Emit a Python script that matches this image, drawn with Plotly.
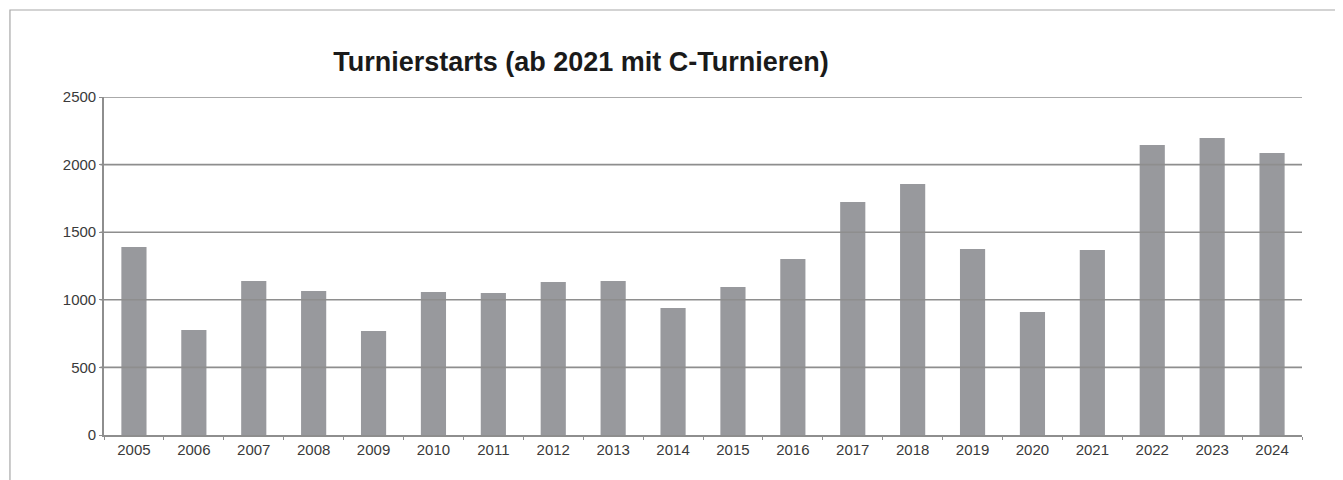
import plotly.graph_objects as go

years = ["2005", "2006", "2007", "2008", "2009", "2010", "2011", "2012", "2013", "2014",
         "2015", "2016", "2017", "2018", "2019", "2020", "2021", "2022", "2023", "2024"]
starts = [1390, 777, 1139, 1065, 769, 1058, 1050, 1132, 1139, 939,
          1095, 1302, 1723, 1857, 1376, 910, 1368, 2145, 2197, 2086]
y_ticks = [0, 500, 1000, 1500, 2000, 2500]
title_text = "Turnierstarts (ab 2021 mit C-Turnieren)"

FONT = "Liberation Sans, Arial, Helvetica, sans-serif"
GRID = "#8e8e8e"
OFF = 8  # page body margin

fig = go.Figure(go.Bar(x=years, y=starts, marker=dict(color="#98999d", line=dict(width=0)),
                       hoverinfo="x+y"))

shapes = []
for v in y_ticks[1:]:
    shapes.append(dict(type="line", xref="paper", yref="y", x0=-0.003, x1=1, y0=v, y1=v,
                       line=dict(color=GRID, width=1.6), layer="above"))
# outer frame
shapes.append(dict(type="rect", xref="paper", yref="paper", x0=-0.0785, x1=1.1, y0=-0.3, y1=1.2574,
                   line=dict(color="#a8a8a8", width=1.2), layer="below"))

W, H = 1343 - OFF, 480 - OFF
fig.update_layout(
    width=W, height=H,
    margin=dict(l=104 - OFF, r=41, t=97 - OFF, b=45),
    paper_bgcolor="white", plot_bgcolor="white",
    bargap=0.58,
    showlegend=False,
    title=dict(text="<b>" + title_text + "</b>", xref="paper", yref="container",
               x=(581 - 104) / 1198, y=1 - (62 - OFF) / H, xanchor="center", yanchor="middle",
               font=dict(family=FONT, size=27, color="#1a1a1a")),
    font=dict(family=FONT, size=15, color="#3a3a3a"),
    shapes=shapes,
    xaxis=dict(type="category", showgrid=False, showline=True, linecolor=GRID, linewidth=1.6,
               ticks="outside", tickson="boundaries", ticklen=3, tickcolor=GRID,
               tickfont=dict(family=FONT, size=15, color="#3a3a3a")),
    yaxis=dict(range=[0, 2500], tickvals=y_ticks, showgrid=False, zeroline=False,
               showline=True, linecolor=GRID, linewidth=1.6,
               ticks="outside", ticklen=3, tickcolor=GRID,
               tickfont=dict(family=FONT, size=15, color="#3a3a3a")),
)

fig.write_html("out.html")
